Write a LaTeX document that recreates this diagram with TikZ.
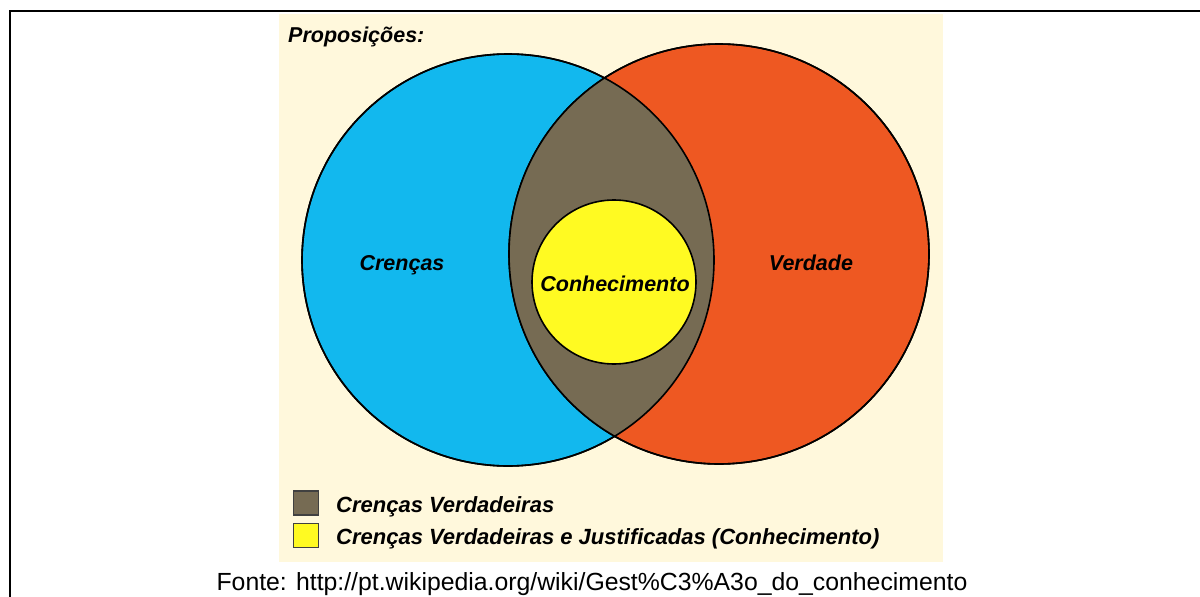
\documentclass[tikz,border=0pt]{standalone}
\usepackage{fontspec}
\setmainfont{Liberation Sans}
\definecolor{creme}{RGB}{255,248,220}
\definecolor{azul}{RGB}{18,184,238}
\definecolor{laranja}{RGB}{238,88,34}
\definecolor{marrom}{RGB}{118,107,83}
\definecolor{amarelo}{RGB}{255,250,34}
\begin{document}
\begin{tikzpicture}[
    x=1pt, y=-1pt,
    conjunto/.style={circle, draw=black, line width=1.6pt, inner sep=0pt},
    rotulo/.style={font=\fontsize{21.5}{24}\selectfont\bfseries\itshape, inner sep=0pt},
    legenda/.style={font=\fontsize{22}{24}\selectfont\bfseries\itshape, inner sep=0pt},
    caixa/.style={draw=black!75, line width=1.5pt, minimum width=25pt, minimum height=24pt, inner sep=0pt},
    fonte/.style={font=\fontsize{24.8}{28}\selectfont, inner sep=0pt}
]
  \useasboundingbox (0,0) rectangle (1200,597);

  % moldura
  \draw[line width=2.5pt] (1200,11) -- (10,11) -- (10,597);
  \fill[creme] (279,14) rectangle (943,562);

  % conjuntos
  \node[conjunto, fill=azul, minimum size=412pt] (crencas) at (508,260) {};
  \node[conjunto, fill=laranja, minimum size=420pt] (verdade) at (719,254) {};

  % intersecao
  \begin{scope}
    \clip (crencas.center) circle (206pt);
    \fill[marrom] (verdade.center) circle (210pt);
  \end{scope}
  \draw[line width=1.6pt] (crencas.center) circle (206pt);
  \draw[line width=1.6pt] (verdade.center) circle (210pt);

  \node[conjunto, fill=amarelo, minimum size=164pt] (conhec) at (614,282) {};

  % textos
  \node[rotulo, anchor=base west] (titulo) at (288,42) {Proposições:};
  \node[rotulo, anchor=base] (lcrencas) at (402,270) {Crenças};
  \node[rotulo, anchor=base] (lverdade) at (811,270) {Verdade};
  \node[rotulo, anchor=base] (lconhec) at (615,291) {Conhecimento};

  % legenda
  \node[caixa, fill=marrom] (cx1) at (306,503) {};
  \node[caixa, fill=amarelo] (cx2) at (306,535.5) {};
  \node[legenda, anchor=base west] (leg1) at (336,512) {Crenças Verdadeiras};
  \node[legenda, anchor=base west] (leg2) at (336,544) {Crenças Verdadeiras e Justificadas (Conhecimento)};

  \node[fonte, anchor=base] (fonte) at (592,590) {Fonte: http://pt.wikipedia.org/wiki/Gest\%C3\%A3o\_do\_conhecimento};

\end{tikzpicture}
\end{document}
